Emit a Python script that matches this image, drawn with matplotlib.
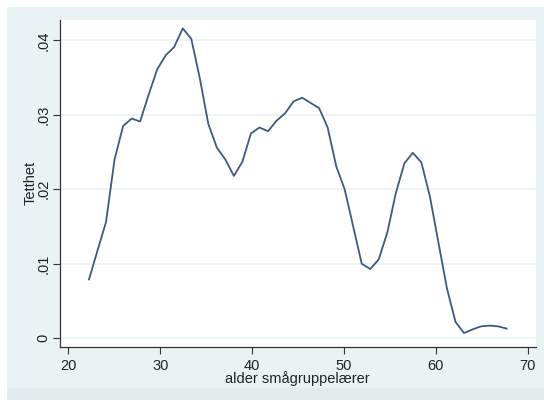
import matplotlib
matplotlib.use("Agg")
import matplotlib.pyplot as plt
from matplotlib.patches import Rectangle
from matplotlib.ticker import FuncFormatter

# kernel density of age, 50 evaluation points
alder = [22.25, 23.18, 24.10, 25.03, 25.96, 26.89, 27.81, 28.74, 29.67, 30.60,
         31.52, 32.45, 33.38, 34.31, 35.23, 36.16, 37.09, 38.02, 38.94, 39.87,
         40.80, 41.73, 42.65, 43.58, 44.51, 45.44, 46.36, 47.29, 48.22, 49.15,
         50.07, 51.00, 51.93, 52.86, 53.78, 54.71, 55.64, 56.57, 57.49, 58.42,
         59.35, 60.28, 61.20, 62.13, 63.06, 63.99, 64.91, 65.84, 66.77, 67.70]
tetthet = [0.0079, 0.0118, 0.0156, 0.0240, 0.0285, 0.0295, 0.0291, 0.0327, 0.0361, 0.0380,
           0.0391, 0.0416, 0.0402, 0.0349, 0.0288, 0.0256, 0.0240, 0.0218, 0.0237, 0.0275,
           0.0283, 0.0278, 0.0292, 0.0302, 0.0318, 0.0323, 0.0316, 0.0309, 0.0283, 0.0231,
           0.0200, 0.0150, 0.0100, 0.0093, 0.0106, 0.0142, 0.0195, 0.0235, 0.0249, 0.0236,
           0.0190, 0.0128, 0.0067, 0.0022, 0.0007, 0.0012, 0.0016, 0.0017, 0.0016, 0.0013]

x_ticks = [20, 30, 40, 50, 60, 70]
y_ticks = [0, 0.01, 0.02, 0.03, 0.04]

plt.rcParams['font.family'] = ['Liberation Sans', 'DejaVu Sans']


def y_fmt(v, pos):
    # stata style: 0, .01, .02 ...
    if v == 0:
        return "0"
    return "{:.2f}".format(v).lstrip("0")


fig = plt.figure(figsize=(5.44, 4.0), dpi=100, facecolor="white")
# graph region background
fig.patches.append(Rectangle((7 / 544, 12 / 400), 537 / 544, 381 / 400,
                             transform=fig.transFigure, facecolor="#eaf2f3",
                             edgecolor="none", zorder=-2))
fig.patches.append(Rectangle((7 / 544, 0), 537 / 544, 12 / 400,
                             transform=fig.transFigure, facecolor="#e3ebec",
                             edgecolor="none", zorder=-2))

ax = fig.add_axes([59.5 / 544, 53.3 / 400, (536 - 59.5) / 544, (346.7 - 20) / 400])
ax.set_zorder(1)
ax.set_facecolor("white")
ax.plot(alder, tetthet, color="#3e5a7e", linewidth=1.3)

ax.set_xlim(19.04, 70.89)
ax.set_ylim(-0.00113, 0.04273)
ax.set_xticks(x_ticks)
ax.set_yticks(y_ticks)
ax.yaxis.set_major_formatter(FuncFormatter(y_fmt))
ax.grid(axis="y", color="#eaf2f3", linewidth=1.2)
ax.set_axisbelow(True)

for s in ["top", "right"]:
    ax.spines[s].set_visible(False)
for s in ["left", "bottom"]:
    ax.spines[s].set_color("#333333")
    ax.spines[s].set_linewidth(0.9)

ax.tick_params(axis="both", direction="out", length=5, width=0.8, color="#333333",
               labelsize=10.5, labelcolor="#222222")
ax.tick_params(axis="y", pad=1.5)
for lab in ax.get_yticklabels():
    lab.set_rotation(90)
    lab.set_va("center")

ax.set_xlabel("alder smågruppelærer", fontsize=10.5, color="#222222", labelpad=-1)
ax.set_ylabel("Tetthet", fontsize=10.5, color="#222222", labelpad=-1)

fig.savefig("out.png", dpi=100, facecolor="white")
